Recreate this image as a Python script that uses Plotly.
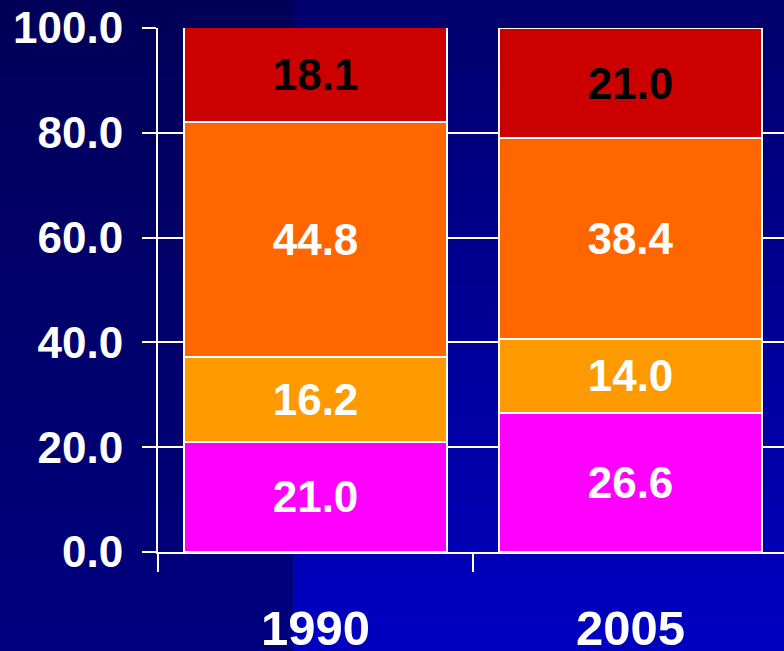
import plotly.graph_objects as go

# ---- data ----
years = ["1990", "2005"]
seg1 = [21.0, 26.6]   # magenta (bottom)
seg2 = [16.2, 14.0]   # amber
seg3 = [44.8, 38.4]   # orange
seg4 = [18.1, 21.0]   # red (top)
y_ticks = [0, 20, 40, 60, 80, 100]
y_tick_labels = ["0.0", "20.0", "40.0", "60.0", "80.0", "100.0"]

series = [
    (seg1, "#FF00FF", "white"),
    (seg2, "#FF9900", "white"),
    (seg3, "#FF6600", "white"),
    (seg4, "#CC0000", "black"),
]

W, H = 784, 651
L, R, T, B = 158, 0, 28, 99
pw, ph = W - L - R, H - T - B


def px2paper_x(px):
    return (px - L) / pw


def px2paper_y(py):
    return (H - B - py) / ph


FONT = "Liberation Sans, Arial, sans-serif"

fig = go.Figure()
for vals, col, tcol in series:
    fig.add_trace(go.Bar(
        x=years, y=vals,
        marker=dict(color=col, line=dict(color="white", width=2)),
        width=0.832,
        texttemplate="%{y:.1f}",
        textposition="inside",
        insidetextanchor="middle",
        textangle=0,
        constraintext="none",
        textfont=dict(family=FONT, size=44, color=tcol, weight="bold"),
        cliponaxis=True,
        hoverinfo="skip",
        showlegend=False,
    ))

# background gradient bands (two vertical gradient regions)
shapes = []
n = 60
split_px = 293


def lerp(a, b, t):
    return a + (b - a) * t


for i in range(n):
    y0 = H * i / n
    y1 = H * (i + 1) / n + 0.8
    t = (i + 0.5) / n
    lb = int(lerp(0x58, 0x80, t))
    rb = int(lerp(0x6C, 0xC2, t))
    shapes.append(dict(type="rect", xref="paper", yref="paper", layer="below",
                       x0=px2paper_x(0), x1=px2paper_x(split_px),
                       y0=px2paper_y(y1), y1=px2paper_y(y0),
                       line=dict(width=0), fillcolor=f"rgb(0,0,{lb})"))
    shapes.append(dict(type="rect", xref="paper", yref="paper", layer="below",
                       x0=px2paper_x(split_px), x1=px2paper_x(W + 2),
                       y0=px2paper_y(y1), y1=px2paper_y(y0),
                       line=dict(width=0), fillcolor=f"rgb(0,0,{rb})"))

fig.update_layout(
    width=W, height=H,
    margin=dict(l=L, r=R, t=T, b=B, pad=0, autoexpand=False),
    paper_bgcolor="#000066",
    plot_bgcolor="rgba(0,0,0,0)",
    barmode="stack",
    bargap=0.168,
    shapes=shapes,
    showlegend=False,
    font=dict(family=FONT, color="white"),
)

fig.update_xaxes(
    type="category",
    range=[-0.5, -0.5 + pw / 315.0],
    tickson="boundaries",
    ticks="outside", ticklen=18, tickwidth=2, tickcolor="white",
    showgrid=False, zeroline=False,
    showline=True, linecolor="white", linewidth=2,
    tickfont=dict(family=FONT, size=49, color="white", weight="bold"),
    ticklabelstandoff=32,
    automargin=False,
)
fig.update_yaxes(
    range=[0, 100],
    tickvals=y_ticks, ticktext=y_tick_labels,
    ticks="outside", ticklen=14, tickwidth=2, tickcolor="white",
    showgrid=True, gridcolor="white", gridwidth=2,
    zeroline=False,
    showline=True, linecolor="white", linewidth=2,
    tickfont=dict(family=FONT, size=44, color="white", weight="bold"),
    ticklabelstandoff=10,
    automargin=False,
)

fig.write_html("out.html")
